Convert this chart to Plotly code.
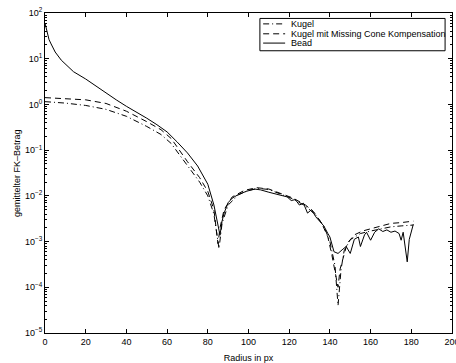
import plotly.graph_objects as go

# Bead (solid)
bead_x = [0, 1, 2, 3, 5, 8, 10, 14, 20, 25, 30, 35, 40, 45, 50, 55, 60, 65, 70, 75, 80, 83, 85, 86, 87, 88,
          90, 92, 95, 99, 103, 106, 110, 113, 116, 119, 121, 123, 125, 127, 129, 131, 133, 135, 137, 139,
          140, 142, 144, 146, 148, 150, 152, 154, 155, 157, 158, 160, 162, 164, 166, 168, 170, 172, 174,
          175, 176, 178, 179, 181]
bead_y = [60, 40, 26, 21, 14, 9.3, 7.6, 5.2, 3.6, 2.5, 1.8, 1.26, 0.91, 0.68, 0.5, 0.36, 0.25, 0.15,
          0.087, 0.045, 0.018, 0.0063, 0.002, 0.00138, 0.0028, 0.0042,
          0.0071, 0.0089, 0.0107, 0.0126, 0.0141, 0.0135, 0.012, 0.0112, 0.0102, 0.0095, 0.0079, 0.0083,
          0.0063, 0.0069, 0.0042, 0.005, 0.0035, 0.0027, 0.0022, 0.0015,
          0.00126, 0.0006, 0.00055, 0.00066, 0.00078, 0.00055, 0.00112, 0.00126, 0.00078, 0.0014, 0.0016,
          0.00107, 0.0016, 0.0019, 0.00166, 0.0018, 0.0016, 0.0017, 0.0015,
          0.00107, 0.0016, 0.00036, 0.00112, 0.0024]

# Kugel mit Missing Cone Kompensation (dashed)
mc_x = [0, 10, 20, 30, 40, 50, 57, 62, 66, 70, 76, 80, 83, 85, 86, 88, 92, 98, 104, 110, 116, 122, 128,
        132, 136, 139, 141, 143, 144, 145, 147, 148.5, 152, 156, 160, 165, 170, 175, 181]
mc_y = [1.41, 1.35, 1.26, 1.05, 0.71, 0.42, 0.28, 0.18, 0.1, 0.056, 0.025, 0.0125, 0.005, 0.0009, 0.002,
        0.005, 0.0095, 0.0132, 0.0151, 0.0141, 0.0112, 0.0089, 0.0063, 0.0045, 0.0025, 0.00126, 0.0005,
        0.00016, 0.0001, 0.00025, 0.00055, 0.00091, 0.0014, 0.0017, 0.0019, 0.0022, 0.0025, 0.0026, 0.0028]

# Kugel (dash-dot)
k_x = [0, 10, 20, 30, 40, 50, 57, 62, 66, 70, 76, 80, 83, 85.5, 87, 90, 95, 100, 105, 110, 116, 122, 128,
       133, 137, 140, 142.5, 144, 145.5, 147, 150, 155, 160, 165, 170, 175, 181]
k_y = [1.15, 1.07, 0.95, 0.78, 0.55, 0.33, 0.22, 0.14, 0.08, 0.047, 0.02, 0.01, 0.004, 0.0007, 0.0025,
       0.0063, 0.0105, 0.0132, 0.0145, 0.0138, 0.011, 0.0085, 0.006, 0.0038, 0.0022, 0.001, 0.0003,
       0.00004, 0.00025, 0.00063, 0.0011, 0.0015, 0.0017, 0.0019, 0.0021, 0.0022, 0.0023]

x_ticks = [0, 20, 40, 60, 80, 100, 120, 140, 160, 180, 200]
y_exps = [-5, -4, -3, -2, -1, 0, 1, 2]

legend_names = ["Kugel", "Kugel mit Missing Cone Kompensation", "Bead"]
legend_dashes = ["6px,3px,1px,3px", "6px,4px", "solid"]

FONT = "Liberation Sans, Arial, sans-serif"

fig = go.Figure()
fig.add_trace(go.Scatter(x=k_x, y=k_y, mode="lines", name=legend_names[0],
                         line=dict(color="black", width=1, dash=legend_dashes[0])))
fig.add_trace(go.Scatter(x=mc_x, y=mc_y, mode="lines", name=legend_names[1],
                         line=dict(color="black", width=1, dash=legend_dashes[1])))
fig.add_trace(go.Scatter(x=bead_x, y=bead_y, mode="lines", name=legend_names[2],
                         line=dict(color="black", width=1)))

# custom compact legend (MATLAB style)
shapes = [dict(type="rect", xref="paper", yref="paper", x0=0.528, x1=0.983, y0=0.882, y1=0.983,
               line=dict(color="black", width=1), fillcolor="white", layer="above")]
annotations = []
row_y = [0.966, 0.935, 0.906]
for name, dash, yy in zip(legend_names, legend_dashes, row_y):
    shapes.append(dict(type="line", xref="paper", yref="paper", x0=0.536, x1=0.590, y0=yy, y1=yy,
                       line=dict(color="black", width=1, dash=dash), layer="above"))
    annotations.append(dict(xref="paper", yref="paper", x=0.5995, y=yy, text=name, showarrow=False,
                            xanchor="left", yanchor="middle", font=dict(size=9, color="black")))

# y axis title as rotated annotation
annotations.append(dict(xref="paper", yref="paper", x=-0.069, y=0.5, text="gemittelter FK\u2013Betrag",
                        textangle=-90, showarrow=False, xanchor="center", yanchor="middle",
                        font=dict(size=9, color="black")))

fig.update_layout(
    width=456, height=363,
    margin=dict(l=45, r=4, t=13, b=30, autoexpand=False),
    paper_bgcolor="white", plot_bgcolor="white",
    font=dict(family=FONT, size=9, color="black"),
    showlegend=False,
    shapes=shapes,
    annotations=annotations,
    xaxis=dict(range=[0, 200], tickvals=x_ticks, ticktext=[str(v) for v in x_ticks],
               ticks="inside", ticklen=4, tickcolor="black", showline=True, linecolor="black",
               linewidth=1, mirror="ticks", showgrid=False, zeroline=False, automargin=False,
               ticklabeloverflow="allow",
               title=dict(text="Radius in px", font=dict(size=9), standoff=8)),
    yaxis=dict(type="log", range=[-5, 2],
               tickvals=[10 ** e for e in y_exps],
               ticktext=["10<sup>%d</sup>" % e if e >= 0 else "10<sup>\u2212%d</sup>" % (-e) for e in y_exps],
               ticks="inside", ticklen=4, tickcolor="black", showline=True, linecolor="black",
               linewidth=1, mirror="ticks", showgrid=False, zeroline=False, automargin=False,
               ticklabeloverflow="allow",
               minor=dict(ticks="inside", ticklen=2, tickcolor="black", dtick="D1", showgrid=False)),
)

fig.write_html("out.html")
